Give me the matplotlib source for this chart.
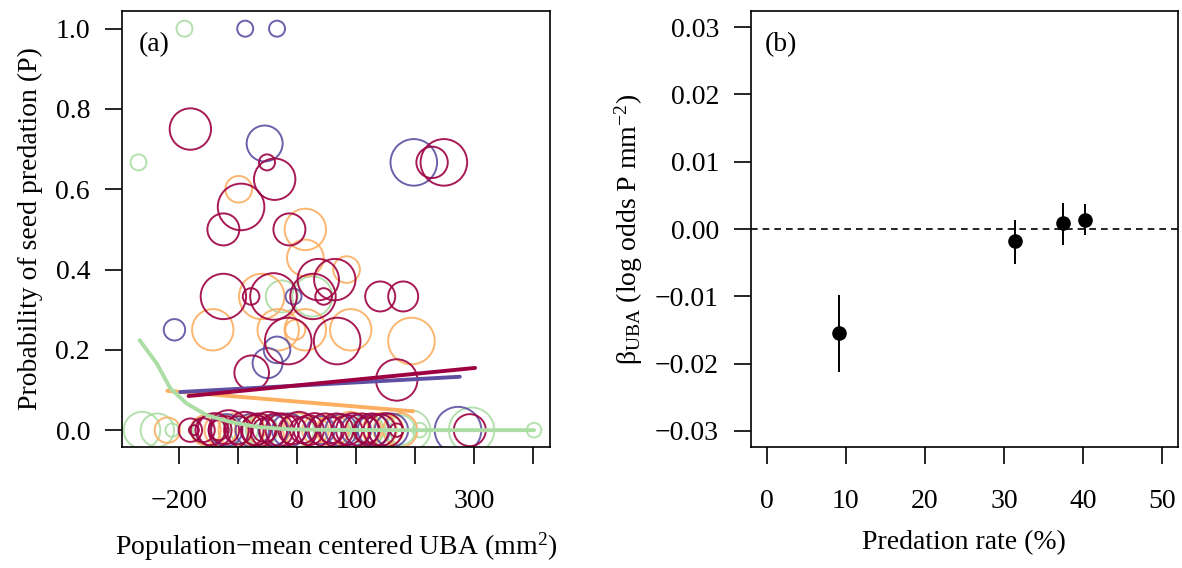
import matplotlib
matplotlib.use("Agg")
import matplotlib.pyplot as plt
from matplotlib.ticker import FuncFormatter

plt.rcParams['font.family'] = ['Liberation Serif', 'DejaVu Serif']
plt.rcParams['mathtext.fontset'] = 'custom'
plt.rcParams['mathtext.rm'] = 'Liberation Serif'
plt.rcParams['mathtext.it'] = 'Liberation Serif:italic'

# population colours (Spectral ends)
COL = {"red": "#9E0142", "orange": "#FDAE61", "green": "#ABDDA4", "purple": "#5E4FA2"}

# ---- panel (a): individual plants, x = centred UBA, p = predation prob, w = bubble weight
red_x = [-181, -51, -38, -95, -125, -13, 229, 249, 36, 64, -125, -78, -40, 27, 45, 141, 180,
         -15, 68, -77, 169,
         -181, -175, -160, -147, -140, -133, -122, -116, -100, -88, -70, -65, -55, -48, -35,
         -25, -8, 3, 10, 20, 30, 48, 58, 67, 85, 95, 110, 118, 127, 140, 150, 169, 293]
red_p = [0.75, 0.667, 0.625, 0.556, 0.5, 0.5, 0.667, 0.667, 0.375, 0.375, 0.333, 0.333, 0.333,
         0.333, 0.333, 0.333, 0.333, 0.222, 0.222, 0.143, 0.125,
         0, 0, 0, 0, 0, 0, 0, 0, 0, 0, 0, 0, 0, 0, 0,
         0, 0, 0, 0, 0, 0, 0, 0, 0, 0, 0, 0, 0, 0, 0, 0, 0, 0]
red_w = [20.7, 8, 20.7, 23.3, 16, 16, 15.7, 23.3, 20.7, 20.7, 22.7, 8.3, 23.3, 22.7, 8.3, 15, 15,
         23.3, 23.3, 17.3, 20.7,
         11.7, 5, 12, 15, 17, 10, 14, 20, 14, 18.3, 15, 16.7, 12, 18.3, 17,
         16.7, 14, 18.3, 13, 15, 17, 16.7, 13, 16.7, 15, 17, 16.7, 13, 16.7, 16, 17, 6.7, 16]

orange_x = [-99, 14, 14, 84, -60, -143, -32, -3, 14, 91, 194,
            -220, -155, -130, -105, -80, -60, -37, 5, 31, 60, 90, 120, 140, 155, 175]
orange_p = [0.6, 0.5, 0.429, 0.4, 0.333, 0.25, 0.25, 0.25, 0.25, 0.25, 0.222,
            0, 0, 0, 0, 0, 0, 0, 0, 0, 0, 0, 0, 0, 0, 0]
orange_w = [13.3, 20.7, 18.3, 13.3, 22.7, 20.7, 20.7, 10, 20.7, 20.7, 23.3,
            12.7, 15, 16, 16.7, 15, 14, 15, 17, 13.3, 16, 18.3, 14, 17, 15, 17]

purple_x = [-88, -34, -55, 198, -6, -208, -34, -50,
            -120, -76, -40, -14, 40, 75, 100, 130, 160, 273]
purple_p = [1.0, 1.0, 0.714, 0.667, 0.333, 0.25, 0.2, 0.167,
            0, 0, 0, 0, 0, 0, 0, 0, 0, 0]
purple_w = [8, 8, 18, 23.3, 8, 10.7, 13.3, 15,
            16, 16.7, 15, 16.7, 14, 16, 15, 16, 16.7, 23.3]

green_x = [-191, -269, -26, 26,
           -263, -237, -212, -150, -90, -60, 0, 65, 120, 150, 175, 192, 208, 296, 402]
green_p = [1.0, 0.667, 0.333, 0.333,
           0, 0, 0, 0, 0, 0, 0, 0, 0, 0, 0, 0, 0, 0, 0]
green_w = [8, 8, 16, 20,
           18.3, 16.7, 6.7, 16, 14, 16, 17, 15, 16, 17, 15, 20, 7.3, 22.7, 7.3]

# fitted curves
fit_red_x = [-184, 302]
fit_red_p = [0.085, 0.155]
fit_purple_x = [-198, 276]
fit_purple_p = [0.095, 0.133]
fit_orange_x = [-220, 197]
fit_orange_p = [0.098, 0.047]
fit_green_x = [-267, -238, -215, -187, -153, -114, -68, -12, 60, 200, 402]
fit_green_p = [0.224, 0.166, 0.104, 0.066, 0.037, 0.021, 0.008, 0.002, 0.0005, 0.0, 0.0]

# ---- panel (b): slope estimates per population
pred_rate = [9.1, 31.4, 37.5, 40.3]
beta = [-0.0154, -0.0018, 0.0009, 0.0014]
beta_lo = [-0.0213, -0.0052, -0.0024, -0.0009]
beta_hi = [-0.0098, 0.0014, 0.0039, 0.0037]

FS = 20


def pt_size(w):
    # bubble weight (radius in px at 100 dpi) -> scatter area
    return [(2 * v * 0.72) ** 2 for v in w]


def style_axes(ax):
    for sp in ax.spines.values():
        sp.set_linewidth(1.2)
    ax.tick_params(axis='both', length=12, width=1.2, labelsize=FS, direction='out')
    ax.tick_params(axis='x', pad=18)
    ax.tick_params(axis='y', pad=11)


fig = plt.figure(figsize=(11.82, 5.68), dpi=100)
ax1 = fig.add_axes([0.1032, 0.2130, 0.3621, 0.7676])
ax2 = fig.add_axes([0.6354, 0.2130, 0.3610, 0.7676])

# panel (a)
groups = [("green", green_x, green_p, green_w),
          ("orange", orange_x, orange_p, orange_w),
          ("purple", purple_x, purple_p, purple_w),
          ("red", red_x, red_p, red_w)]
for name, gx, gp, gw in groups:
    ax1.scatter(gx, gp, s=pt_size(gw), facecolors='none', edgecolors=COL[name],
                linewidths=1.4, alpha=0.9, zorder=2)

ax1.plot(fit_orange_x, fit_orange_p, color=COL["orange"], lw=2.8, solid_capstyle='round', zorder=3)
ax1.plot(fit_purple_x, fit_purple_p, color=COL["purple"], lw=2.8, solid_capstyle='round', zorder=3)
ax1.plot(fit_red_x, fit_red_p, color=COL["red"], lw=2.8, solid_capstyle='round', zorder=3)
ax1.plot(fit_green_x, fit_green_p, color=COL["green"], lw=2.8, solid_capstyle='round', zorder=3)

ax1.set_xlim(-297, 429)
ax1.set_ylim(-0.042, 1.044)
ax1.set_xticks([-200, -100, 0, 100, 200, 300, 400])
ax1.set_xticklabels(['\u2212200', '', '0', '100', '', '300', ''])
ax1.set_yticks([0, 0.2, 0.4, 0.6, 0.8, 1.0])
ax1.yaxis.set_major_formatter(FuncFormatter(lambda v, pos: f"{v:.1f}"))
ax1.set_xlabel('Population\u2212mean centered UBA (mm$^{2}$)', fontsize=FS, labelpad=12)
ax1.set_ylabel('Probability of seed predation (P)', fontsize=FS, labelpad=9)
ax1.text(0.04, 0.922, '(a)', transform=ax1.transAxes, fontsize=FS, va='center', ha='left')
style_axes(ax1)

# panel (b)
ax2.axhline(0, color='black', lw=1.2, linestyle=(0, (4, 3)), zorder=1)
ax2.vlines(pred_rate, beta_lo, beta_hi, color='black', lw=1.4, zorder=2)
ax2.plot(pred_rate, beta, 'o', color='black', markersize=9.5, zorder=3)
ax2.set_xlim(-2, 52)
ax2.set_ylim(-0.0324, 0.0324)
ax2.set_xticks([0, 10, 20, 30, 40, 50])
ax2.set_yticks([-0.03, -0.02, -0.01, 0, 0.01, 0.02, 0.03])
ax2.yaxis.set_major_formatter(
    FuncFormatter(lambda v, pos: ("%.2f" % (0.0 if abs(v) < 1e-9 else v)).replace('-', '\u2212')))
ax2.set_xlabel('Predation rate (%)', fontsize=FS, labelpad=12)
ax2.set_ylabel('\u03b2$_{\\mathrm{UBA}}$ (log odds P mm$^{\u22122}$)', fontsize=FS, labelpad=7)
ax2.text(0.033, 0.922, '(b)', transform=ax2.transAxes, fontsize=FS, va='center', ha='left')
style_axes(ax2)

fig.savefig('out.png', dpi=100)
